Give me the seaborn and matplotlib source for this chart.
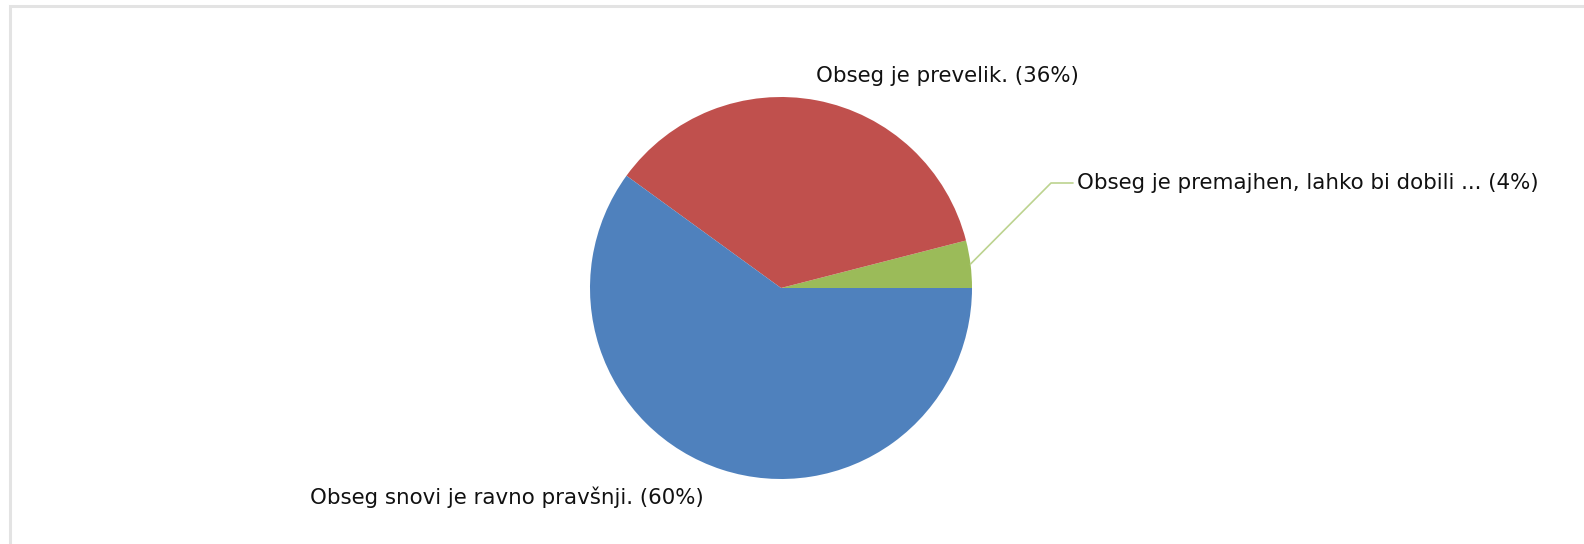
import matplotlib
matplotlib.use("Agg")
import matplotlib.pyplot as plt
import seaborn as sns
import numpy as np
from matplotlib.patches import Rectangle

# Podatki
odgovori = ["Obseg je premajhen, lahko bi dobili ...",
            "Obseg je prevelik.",
            "Obseg snovi je ravno pravšnji."]
delezi = [4, 36, 60]
barve = ["#9BBB59", "#C0504D", "#4F81BD"]

sns.set_theme(style="white")
plt.rcParams['font.family'] = ['DejaVu Sans']

W, H = 1584, 544
fig = plt.figure(figsize=(W / 100, H / 100), dpi=100)
fig.patch.set_facecolor("white")
ax = fig.add_axes([0, 0, 1, 1])

# Okvir
fig.patches.append(Rectangle((9.5 / W, -0.1), 1.2, (H - 5.5) / H + 0.1,
                             transform=fig.transFigure, fill=False,
                             edgecolor="#e3e3e3", linewidth=2.2, zorder=0))

cx, cy, r = 781, H - 288, 191
wedges, _ = ax.pie(delezi, colors=barve, startangle=0, counterclock=True,
                   center=(cx, cy), radius=r, frame=True,
                   wedgeprops=dict(linewidth=0))
ax.set_xlim(0, W)
ax.set_ylim(0, H)
ax.set_aspect("equal")
ax.axis("off")

fs = 15.4
# Mali kos - zunanja oznaka s črto
w = wedges[0]
kot = np.deg2rad((w.theta1 + w.theta2) / 2)
px, py = cx + r * np.cos(kot), cy + r * np.sin(kot)
ax.plot([px, 1051, 1073], [py, H - 183, H - 183], color="#bcd38f", lw=1.2)
ax.text(1077, H - 183, f"{odgovori[0]} ({delezi[0]}%)", fontsize=fs,
        va="center", ha="left", color="#111111")

ax.text(816, H - 76, f"{odgovori[1]} ({delezi[1]}%)", fontsize=fs,
        va="center", ha="left", color="#111111")
ax.text(310, H - 497, f"{odgovori[2]} ({delezi[2]}%)", fontsize=fs,
        va="center", ha="left", color="#111111")

fig.savefig("out.png", dpi=100)
